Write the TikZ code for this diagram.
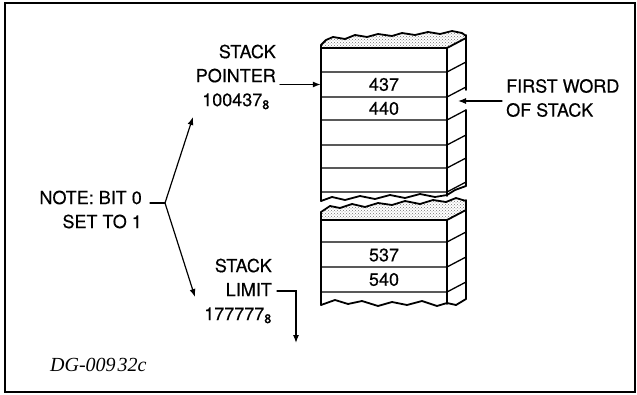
\documentclass[tikz,border=0pt]{standalone}
\usepackage{fontspec}
\setmainfont{TeX Gyre Heros}[FakeBold=0.4]
\newfontfamily\tagfont{Liberation Serif}
\usetikzlibrary{arrows.meta,patterns}

\tikzset{
  lbl/.style={font=\fontsize{18}{24}\selectfont, inner sep=1pt},
  cell/.style={lbl, minimum width=126pt, inner sep=0pt},
  ptr/.style={line width=1.2pt, -{Latex[length=8pt,width=6pt]}},
  edge/.style={line width=1.8pt, line join=round},
  rowline/.style={line width=1.3pt},
  torn/.style={pattern=crosshatch dots, pattern color=black!55},
}

\begin{document}
\begin{tikzpicture}[x=1pt,y=-1pt,line cap=round]
  \useasboundingbox (0,0) rectangle (637,395);
  % ── frame ──
  \draw[line width=1.3pt] (5,3) rectangle (635,392);
  % ── upper block of the stack ──
  \fill[torn] (321,48) -- (321,45) -- (326,40) -- (333,37) -- (345,39) -- (355,35) -- (367,37)
    -- (378,34) -- (392,36) -- (402,33) -- (415,35) -- (428,32) -- (440,34) -- (452,31)
    -- (462,33) -- (466,36) -- (466,38) -- (447,48) -- cycle;
  \draw[edge] (321,45) -- (326,40) -- (333,37) -- (345,39) -- (355,35) -- (367,37)
    -- (378,34) -- (392,36) -- (402,33) -- (415,35) -- (428,32) -- (440,34) -- (452,31)
    -- (462,33) -- (466,36);
  \draw[edge] (321,201) -- (321,45);
  \draw[edge] (321,48) -- (447,48) -- (466,38);
  \draw[edge] (447,48) -- (447,196);
  \draw[edge] (466,35) -- (466,90);
  \draw[edge] (466,110) -- (466,186);
  \foreach \y in {72,97,120,145,168,192} { \draw[rowline] (321,\y) -- (447,\y) -- (466,\y-10); }
  \draw[edge] (321,201) -- (332,197) -- (345,200) -- (360,196) -- (375,199) -- (390,195)
    -- (405,198) -- (420,194) -- (435,197) -- (447,195) -- (455,190) -- (466,186);
  % ── lower block of the stack ──
  \fill[torn] (321,212) -- (330,206) -- (340,208) -- (352,204) -- (365,207) -- (378,203)
    -- (392,205) -- (405,201) -- (420,204) -- (433,200) -- (446,202) -- (456,198)
    -- (466,201) -- (466,210) -- (447,220) -- (321,220) -- cycle;
  \draw[edge] (321,212) -- (330,206) -- (340,208) -- (352,204) -- (365,207) -- (378,203)
    -- (392,205) -- (405,201) -- (420,204) -- (433,200) -- (446,202) -- (456,198)
    -- (466,201);
  \draw[edge] (321,212) -- (321,305);
  \draw[edge] (321,220) -- (447,220) -- (466,210);
  \draw[edge] (447,220) -- (447,304);
  \draw[edge] (466,200) -- (466,299);
  \foreach \y in {242,267,292} { \draw[rowline] (321,\y) -- (447,\y) -- (466,\y-10); }
  \draw[edge] (321,305) -- (335,300) -- (348,304) -- (362,301) -- (378,306) -- (392,302)
    -- (407,305) -- (422,301) -- (437,306) -- (447,303) -- (456,305) -- (466,299);
  % ── words ──
  \node[cell] (w437) at (384,84.5)  {437};
  \node[cell] (w440) at (384,108.5) {440};
  \node[cell] (w537) at (384,255)   {537};
  \node[cell] (w540) at (384,279.5) {540};
  % ── labels ──
  \node[lbl, anchor=east, align=right] (sp) at (277,77) {STACK\\POINTER\\100437\textsubscript{8}\hspace*{6pt}};
  \node[lbl, anchor=east, align=right] (sl) at (273,291) {STACK\\LIMIT\\177777\textsubscript{8}};
  \node[lbl, anchor=east, align=right] (note) at (143,209.5) {NOTE: BIT 0\\SET TO 1};
  \node[lbl, anchor=west, align=left] (fw) at (505,98) {FIRST WORD\\OF STACK};
  \node[font=\tagfont\itshape\fontsize{20}{22}\selectfont, anchor=west, inner sep=0pt] (dg)
    at (50,365) {DG-009\kern2pt32c};
  % ── pointers ──
  \coordinate (br)   at (165,203);
  \coordinate (tipU) at (193,117);
  \coordinate (tipL) at (195,297);
  \coordinate (lim)  at (296,343);
  \coordinate (fwt)  at (458,101);
  \draw[ptr] ([xshift=3pt]sp.east |- w437.west) -- (w437.west);
  \draw[ptr] ([xshift=-3pt]fw.west |- fwt) -- (fwt);
  \draw[line width=1.2pt] ([xshift=7pt]note.east |- br) -- (br);
  \draw[ptr] (br) -- (tipU);
  \draw[ptr] (br) -- (tipL);
  \draw[ptr] ([xshift=4pt]sl.east) -| (lim);
\end{tikzpicture}
\end{document}
